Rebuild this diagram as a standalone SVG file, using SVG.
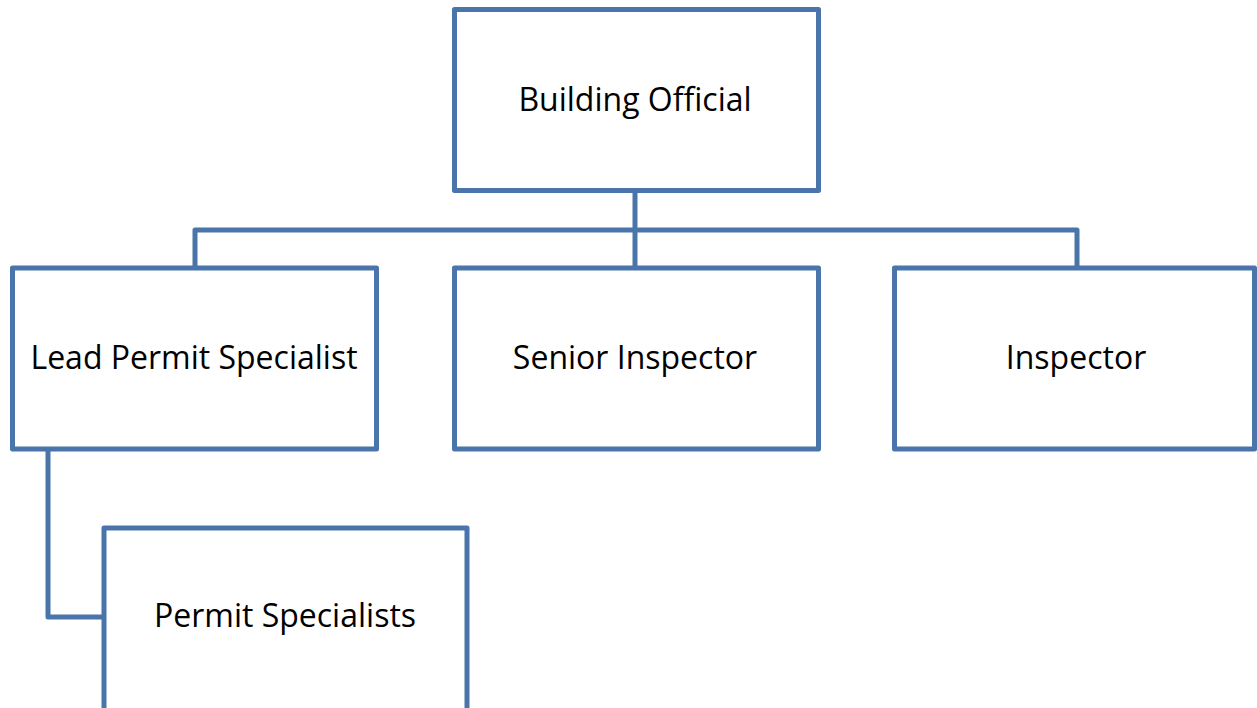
<svg xmlns="http://www.w3.org/2000/svg" width="1257" height="708" viewBox="0 0 1257 708">
  <style>
    .box { fill: #ffffff; stroke: #4a75aa; stroke-width: 5; stroke-linejoin: round; }
    .wire { fill: none; stroke: #4a75aa; stroke-width: 5; stroke-linejoin: round; }
    .label { font-family: "Open Sans", Lato, sans-serif; font-size: 32px; fill: #000000; text-anchor: middle; }
  </style>
  <rect width="1257" height="708" fill="#ffffff"/>

  <!-- connectors -->
  <g id="connectors">
    <path class="wire" d="M635 191 V268"/>
    <path class="wire" d="M195 268 V230 H1077 V268"/>
    <path class="wire" d="M48 448 V617 H104"/>
  </g>

  <g id="building-official">
    <rect class="box" x="454.5" y="9.5" width="364" height="181"/>
    <text class="label" x="635" y="111">Building Official</text>
  </g>

  <g id="lead-permit-specialist">
    <rect class="box" x="12.5" y="268" width="364" height="181"/>
    <text class="label" x="194" y="369">Lead Permit Specialist</text>
  </g>

  <g id="senior-inspector">
    <rect class="box" x="454.5" y="268" width="364" height="181"/>
    <text class="label" x="635" y="369">Senior Inspector</text>
  </g>

  <g id="inspector">
    <rect class="box" x="894.5" y="268" width="360" height="181"/>
    <text class="label" x="1076" y="369">Inspector</text>
  </g>

  <g id="permit-specialists">
    <rect class="box" x="104" y="528" width="363" height="190"/>
    <text class="label" x="285" y="627">Permit Specialists</text>
  </g>
</svg>
